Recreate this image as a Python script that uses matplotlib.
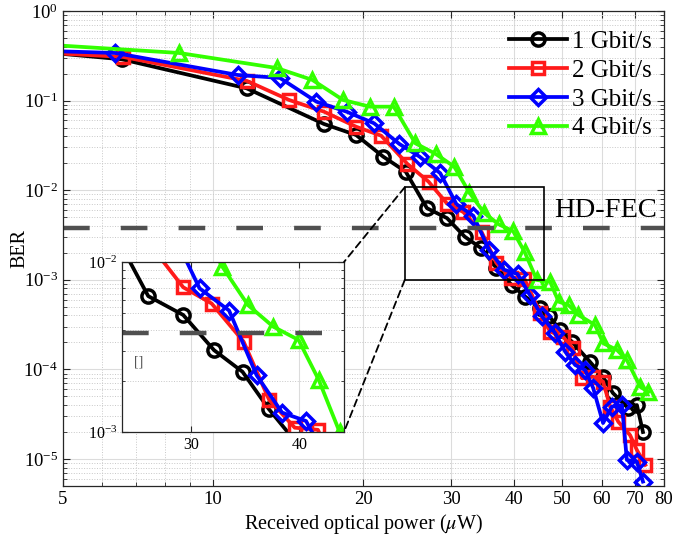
import matplotlib
matplotlib.use('Agg')
import matplotlib.pyplot as plt
import numpy as np
from matplotlib.ticker import FixedLocator, NullFormatter, LogLocator, FixedFormatter
from matplotlib.patches import Rectangle, ConnectionPatch

plt.rcParams['font.family'] = ['Liberation Serif', 'DejaVu Serif']
plt.rcParams['mathtext.fontset'] = 'stix'

# received optical power (uW) and BER per data rate
p1 = [4.5, 6.56, 11.67, 16.67, 19.33, 21.9, 24.3, 26.8, 29.4, 31.9, 34.4, 36.9, 39.6,
      42.2, 45.2, 47.1, 49.5, 52.4, 56.9, 60.4, 63.2, 67.8, 70.6, 72.6]
ber1 = [0.35, 0.289, 0.137, 0.0548, 0.0413, 0.0237, 0.0161, 0.0063, 0.00488, 0.00303,
        0.00226, 0.00136, 8.75e-4, 6.48e-4, 4.84e-4, 3.94e-4, 2.75e-4, 2.02e-4, 1.21e-4,
        8.2e-5, 5.45e-5, 3.7e-5, 4.0e-5, 2.0e-5]

p2 = [4.5, 6.6, 11.69, 14.19, 16.67, 19.33, 21.7, 24.5, 27.0, 29.4, 31.7, 34.5, 36.9,
      39.5, 42.0, 45.2, 47.3, 50.2, 52.5, 54.8, 57.7, 60.4, 62.4, 64.8, 68.4, 70.6, 73.4]
ber2 = [0.345, 0.307, 0.1655, 0.1016, 0.0752, 0.0511, 0.0406, 0.0196, 0.01245, 0.0071,
        0.0057, 0.0034, 0.00155, 1.06e-3, 1.03e-3, 4.26e-4, 2.64e-4, 2.32e-4, 1.72e-4,
        7.96e-5, 8.3e-5, 7.3e-5, 3.84e-5, 2.6e-5, 1.85e-5, 1.26e-5, 8.6e-6]

p3 = [4.5, 6.36, 11.2, 13.6, 16.1, 18.5, 21.0, 23.6, 25.9, 28.5, 30.7, 33.2, 35.7, 38.2,
      40.7, 43.1, 45.5, 48.4, 50.7, 53.1, 55.6, 57.7, 60.4, 62.9, 65.9, 67.4, 70.6, 72.6]
ber3 = [0.36, 0.34, 0.193, 0.179, 0.0972, 0.0752, 0.0558, 0.0328, 0.0237, 0.01545,
        0.0070, 0.00518, 0.00216, 0.0013, 0.00116, 6.76e-4, 3.94e-4, 2.55e-4, 1.58e-4,
        1.12e-4, 9.85e-5, 6.2e-5, 2.52e-5, 3.84e-5, 4.0e-5, 9.75e-6, 9.3e-6, 5.6e-6]

p4 = [4.5, 8.54, 13.4, 15.8, 18.2, 20.6, 23.0, 25.4, 27.9, 30.4, 32.6, 34.9, 37.3, 39.9,
      42.1, 44.5, 47.3, 49.2, 51.5, 53.9, 58.2, 60.5, 64.4, 67.4, 71.7, 74.4]
ber4 = [0.425, 0.34, 0.231, 0.17, 0.1016, 0.0855, 0.0855, 0.0334, 0.0254, 0.0183, 0.0094,
        0.00558, 0.00417, 0.00348, 0.00202, 9.95e-4, 9.53e-4, 5.7e-4, 5.23e-4, 4.05e-4,
        3.13e-4, 1.95e-4, 1.65e-4, 1.27e-4, 6.4e-5, 5.6e-5]

labels = ['1 Gbit/s', '2 Gbit/s', '3 Gbit/s', '4 Gbit/s']
colors = ['black', '#ff1a1a', '#0000ff', '#33ff00']
markers = ['o', 's', 'D', '^']
msizes = [9.5, 8.5, 8, 10.5]

hd_fec = 3.8e-3
xticks = [5, 10, 20, 30, 40, 50, 60, 70, 80]
zoom_x = [24.2, 45.9]
zoom_y = [1.0e-3, 1.08e-2]

series = [(p1, ber1), (p2, ber2), (p3, ber3), (p4, ber4)]

fig = plt.figure(figsize=(6.75, 5.41), dpi=100)
ax = fig.add_axes([0.0933, 0.1017, 0.8904, 0.878])

def draw_curves(a, lw=2.7, mew=2.5):
    for (x, y), lab, c, m, ms in zip(series, labels, colors, markers, msizes):
        a.plot(x, y, color=c, lw=lw, marker=m, ms=ms, mfc='none', mec=c, mew=mew, label=lab)

draw_curves(ax)
ax.axhline(hd_fec, color='#505050', lw=3.2, dashes=(6, 7))
ax.set_xscale('log')
ax.set_yscale('log')
ax.set_xlim(5, 80)
ax.set_ylim(5e-6, 1)
ax.xaxis.set_major_locator(FixedLocator(xticks))
ax.xaxis.set_major_formatter(FixedFormatter([str(t) for t in xticks]))
ax.xaxis.set_minor_locator(FixedLocator([6, 7, 8, 9]))
ax.xaxis.set_minor_formatter(NullFormatter())
ax.yaxis.set_major_locator(LogLocator(base=10, numticks=10))
ax.yaxis.set_minor_locator(LogLocator(base=10, subs=np.arange(2, 10), numticks=20))
ax.yaxis.set_minor_formatter(NullFormatter())
ax.grid(True, which='major', color='#dcdcdc', lw=0.8, ls='-')
ax.grid(True, which='minor', color='#c8c8c8', lw=0.7, ls=':')
ax.set_axisbelow(True)
ax.tick_params(which='both', direction='in', top=True, right=True, labelsize=13.5, color='#262626')
ax.tick_params(which='major', length=5)
ax.tick_params(which='minor', length=3)
for s in ax.spines.values():
    s.set_color('#262626')
    s.set_linewidth(0.9)
ax.set_xlabel(r'Received optical power ($\mu$W)', fontsize=14.5, labelpad=3)
ax.set_ylabel('BER', fontsize=14.5)
ax.yaxis.set_label_coords(-0.056, 0.5)
ax.text(77.5, 6.0e-3, 'HD-FEC', fontsize=20.5, ha='right', va='center')

leg = ax.legend(loc='upper right', bbox_to_anchor=(1.0, 0.985), frameon=False, fontsize=18,
                handlelength=2.3, handletextpad=0.2, labelspacing=0.25, borderpad=0.3,
                borderaxespad=0.2)

ax.add_patch(Rectangle((zoom_x[0], zoom_y[0]), zoom_x[1] - zoom_x[0], zoom_y[1] - zoom_y[0],
                       fill=False, ec='black', lw=1.2, zorder=5))

# inset
axin = fig.add_axes([0.1807, 0.2015, 0.3289, 0.3142])
draw_curves(axin)
axin.axhline(hd_fec, color='#505050', lw=3.2, dashes=(6, 7))
axin.set_xscale('log')
axin.set_yscale('log')
axin.set_xlim(25, 45)
axin.set_ylim(1e-3, 1e-2)
axin.xaxis.set_major_locator(FixedLocator([30, 40]))
axin.xaxis.set_major_formatter(FixedFormatter(['30', '40']))
axin.xaxis.set_minor_locator(FixedLocator([]))
axin.yaxis.set_major_locator(FixedLocator([1e-3, 1e-2]))
axin.yaxis.set_major_formatter(FixedFormatter([r'$\mathdefault{10^{-3}}$', r'$\mathdefault{10^{-2}}$']))
axin.yaxis.set_minor_locator(LogLocator(base=10, subs=np.arange(2, 10), numticks=20))
axin.yaxis.set_minor_formatter(NullFormatter())
axin.grid(True, which='major', color='#dcdcdc', lw=0.8, ls='-')
axin.grid(True, which='minor', axis='y', color='#c8c8c8', lw=0.7, ls=':')
axin.set_axisbelow(True)
axin.tick_params(which='both', direction='in', top=True, right=True, labelsize=11.5, color='#262626')
axin.tick_params(which='major', length=4)
axin.tick_params(which='minor', length=2.5)
for s in axin.spines.values():
    s.set_color('#262626')
    s.set_linewidth(0.9)
axin.text(0.055, 0.39, '[]', transform=axin.transAxes, fontsize=10, color='#555555')

for ya, yb in [(zoom_y[1], 1), (zoom_y[0], 0)]:
    con = ConnectionPatch(xyA=(zoom_x[0], ya), coordsA='data', axesA=ax,
                          xyB=(1, yb), coordsB='axes fraction', axesB=axin,
                          color='black', lw=1.3, ls=(0, (4, 2.5)))
    fig.add_artist(con)

fig.savefig('out.png', dpi=100)
